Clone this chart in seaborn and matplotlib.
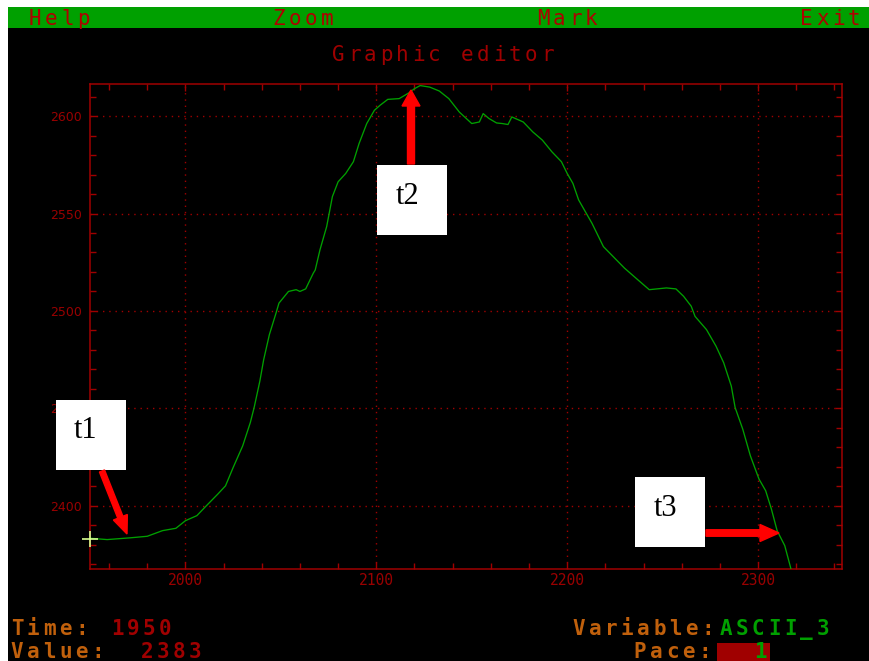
import matplotlib
matplotlib.use("Agg")
import matplotlib.pyplot as plt
import matplotlib.patches as mpatches
from matplotlib.transforms import Affine2D
import numpy as np
import pandas as pd
import seaborn as sns

# ---------------- data ----------------
time = [1950, 1959, 1971, 1980, 1988, 1995, 2000, 2006, 2011, 2017, 2021, 2025,
        2030, 2034, 2036, 2039, 2041, 2044, 2047.5, 2049, 2054, 2058, 2060, 2063,
        2067, 2068, 2070.5, 2074, 2077, 2080, 2084, 2088, 2091, 2095, 2099, 2102,
        2106, 2112, 2117, 2120, 2123, 2128, 2133, 2138, 2143.5, 2150, 2154, 2156,
        2159, 2163, 2166, 2169, 2171, 2177, 2182, 2187, 2192, 2197, 2200, 2203,
        2206, 2213, 2219, 2224, 2230, 2237, 2243, 2252, 2257, 2261, 2265, 2267,
        2273, 2278, 2282, 2286, 2288, 2292, 2296, 2300.5, 2304, 2307, 2310, 2314,
        2317, 2318]
value = [2383.3, 2382.6, 2383.5, 2384.3, 2387.2, 2388.4, 2392.3, 2394.9, 2400.0,
         2406.0, 2410.2, 2419.6, 2430.7, 2442.7, 2450.4, 2464.0, 2475.0, 2487.9,
         2499.0, 2504.0, 2510.0, 2510.9, 2510.0, 2511.3, 2519.4, 2521.0, 2531.4,
         2543.3, 2558.7, 2566.3, 2570.6, 2576.6, 2586.0, 2596.2, 2603.0, 2605.6,
         2608.6, 2609.0, 2611.9, 2614.1, 2615.7, 2614.9, 2612.9, 2609.0, 2602.1,
         2596.2, 2597.0, 2601.3, 2598.8, 2596.5, 2596.2, 2595.7, 2599.6, 2597.0,
         2591.9, 2587.7, 2581.7, 2576.6, 2570.6, 2565.5, 2557.0, 2545.0, 2533.0,
         2528.0, 2522.0, 2516.0, 2510.9, 2511.8, 2511.3, 2507.5, 2502.4, 2497.2,
         2490.4, 2481.9, 2473.4, 2461.4, 2450.4, 2439.3, 2425.6, 2413.7, 2407.7,
         2398.3, 2387.2, 2379.5, 2368.5, 2364.0]
x_major = [2000, 2100, 2200, 2300]
y_major = [2400, 2450, 2500, 2550, 2600]
menu_items = ["Help", "Zoom", "Mark", "Exit"]
title = "Graphic editor"
cursor_time = 1950
cursor_value = 2383
variable_name = "ASCII_3"
pace = "1"
marks = ["t1", "t2", "t3"]

df = pd.DataFrame({"time": time, "value": value})

# ---------------- style ----------------
sns.set_style("ticks")
plt.rcParams["font.family"] = ["DejaVu Sans"]

W, H = 870, 661
fig = plt.figure(figsize=(W / 100, H / 100), dpi=100, facecolor="white")
# pixel transform, origin top-left
T = Affine2D().scale(1, -1).translate(0, H).scale(1 / W, 1 / H) + fig.transFigure

DKRED = "#a00000"
GREEN = "#00a000"
ORANGE = "#c0600c"

# background screen
fig.add_artist(mpatches.Rectangle((8, 7), W - 8, H - 7, transform=T,
                                  facecolor="black", edgecolor="none", zorder=0))
fig.add_artist(mpatches.Rectangle((8, 7), W - 8, 21, transform=T,
                                  facecolor=GREEN, edgecolor="none", zorder=1))

# ---------------- axes ----------------
left, right, top, bottom = 90, 842, 84, 569
ax = fig.add_axes([left / W, 1 - bottom / H, (right - left) / W, (bottom - top) / H])
ax.set_facecolor("black")
ax.set_zorder(2)

sns.lineplot(data=df, x="time", y="value", ax=ax, estimator=None, sort=False,
             color=GREEN, linewidth=0.95, zorder=3)

ax.set_xlim(1950, 2344)
ax.set_ylim(2367.5, 2616.5)
ax.set_xlabel("")
ax.set_ylabel("")

ax.set_xticks(x_major)
ax.set_xticklabels([str(v) for v in x_major])
ax.set_yticks(y_major)
ax.set_yticklabels([str(v) for v in y_major])
ax.set_xticks(np.arange(1960, 2344, 20), minor=True)
ax.set_yticks(np.arange(2370, 2617, 10), minor=True)

for s in ax.spines.values():
    s.set_color(DKRED)
    s.set_linewidth(1.1)

ax.tick_params(axis="both", which="both", direction="in", color=DKRED,
               top=True, right=True, width=1.0)
ax.tick_params(axis="both", which="major", length=5)
ax.tick_params(axis="both", which="minor", length=4)
ax.tick_params(axis="y", which="major", labelsize=9, labelcolor="#990000", pad=6)
ax.tick_params(axis="x", which="major", labelsize=10.5, labelcolor="#990000", pad=3)
for lab in ax.get_xticklabels():
    lab.set_family("DejaVu Sans Mono")

ax.grid(True, which="major", color=DKRED, linestyle=(0, (1, 3.5)), linewidth=1.0)
ax.set_axisbelow(True)

# cursor
ax.plot([cursor_time], [cursor_value], marker="+", markersize=12, mew=1.2,
        color="#d8ff90", zorder=5, clip_on=False)

# ---------------- terminal style text ----------------
STEP = 16.1


def grid_text(s, x_first_center, y_base, color, size=15, weight="bold"):
    for i, ch in enumerate(s):
        if ch == " ":
            continue
        fig.text(x_first_center + STEP * i, y_base, ch, transform=T,
                 ha="center", va="baseline", color=color, fontsize=size,
                 family="DejaVu Sans Mono", fontweight=weight, zorder=6)


menu_x = [35, 279, 543, 806]
for item, mx in zip(menu_items, menu_x):
    grid_text(item, mx, 25, "#b00000", weight="normal")

grid_text(title, 338, 61, DKRED, weight="normal")

grid_text("Time:", 17, 635, ORANGE)
grid_text(str(cursor_time), 117, 635, DKRED)
grid_text("Value:", 17, 658, ORANGE)
grid_text(str(cursor_value), 147, 658, DKRED)
grid_text("Variable:", 579, 635, ORANGE)
grid_text(variable_name, 726, 635, GREEN)
grid_text("Pace:", 640, 658, ORANGE)
fig.add_artist(mpatches.Rectangle((717, 643), 53, 18, transform=T,
                                  facecolor=DKRED, edgecolor="none", zorder=5))
grid_text(pace, 760, 658, GREEN)

# ---------------- annotation boxes & arrows ----------------
boxes = [(56, 400), (377, 165), (635, 477)]
text_off = [(30, 30), (31, 31), (31, 31)]
for (bx, by), (ox, oy), m in zip(boxes, text_off, marks):
    fig.add_artist(mpatches.Rectangle((bx, by), 70, 70, transform=T,
                                      facecolor="white", edgecolor="none", zorder=7))
    fig.text(bx + ox, by + oy, m, transform=T, ha="center", va="center",
             fontsize=22, family="Liberation Serif", color="black", zorder=8)

arrows = [((102, 471), (127, 534), 5.5, 15, 18),
          ((411, 164), (411, 90), 7, 18, 16),
          ((706, 533), (779, 533), 6.5, 17, 19)]
for (x0, y0), (x1, y1), w, hw, hl in arrows:
    fig.add_artist(mpatches.FancyArrow(x0, y0, x1 - x0, y1 - y0, width=w,
                                       head_width=hw, head_length=hl,
                                       length_includes_head=True, transform=T,
                                       color="#ff0000", zorder=8))

fig.savefig("out.png", dpi=100, facecolor="white")
